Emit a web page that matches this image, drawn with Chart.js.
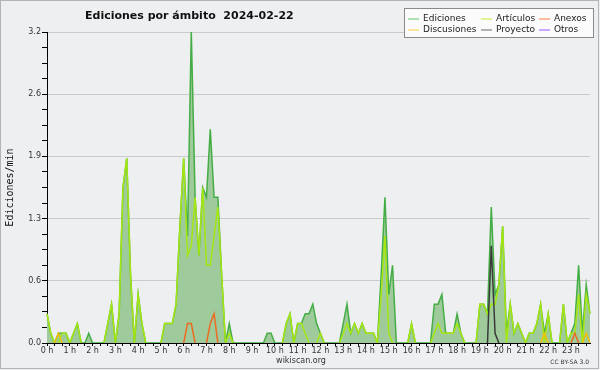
<!DOCTYPE html>
<html>
<head>
<meta charset="utf-8">
<script src="https://cdn.jsdelivr.net/npm/chart.js@4.4.1/dist/chart.umd.min.js"></script>
<style>
  html, body { margin: 0; padding: 0; background: #eeeff0; }
  #wrap { width: 600px; height: 370px; }
</style>
</head>
<body>
<div id="wrap"><canvas id="chart" width="600" height="370"></canvas></div>
<script>
// 10-minute buckets, 00:00 .. 23:50
const timeLabels = [];
for (let h = 0; h < 24; h++) {
    for (let m = 0; m < 60; m += 10) timeLabels.push(h + ':' + String(m).padStart(2, '0'));
}

const hourLabels = ['0 h', '1 h', '2 h', '3 h', '4 h', '5 h', '6 h', '7 h', '8 h', '9 h', '10 h', '11 h',
    '12 h', '13 h', '14 h', '15 h', '16 h', '17 h', '18 h', '19 h', '20 h', '21 h', '22 h', '23 h'];

const yTicks = [0, 0.16, 0.32, 0.48, 0.64, 0.8, 0.96, 1.12, 1.28, 1.44, 1.6, 1.76, 1.92,
    2.08, 2.24, 2.4, 2.56, 2.72, 2.88, 3.04, 3.2];
const yLabels = ['0.0', '0.6', '1.3', '1.9', '2.6', '3.2'];

// edits per minute, one row = 2 hours
const ediciones = [
    0.3, 0.1, 0, 0.1, 0.1, 0.1,   0, 0.1, 0.2, 0, 0, 0.1,
    0, 0, 0, 0, 0.2, 0.4,         0, 0.3, 1.6, 1.9, 0.7, 0,
    0.5, 0.2, 0, 0, 0, 0,         0, 0.2, 0.2, 0.2, 0.4, 1.2,
    1.9, 1.1, 3.2, 1.5, 0.9, 1.6, 1.5, 2.2, 1.5, 1.5, 0.7, 0,
    0.2, 0, 0, 0, 0, 0,           0, 0, 0, 0, 0.1, 0.1,
    0, 0, 0, 0.2, 0.3, 0,         0.2, 0.2, 0.3, 0.3, 0.4, 0.2,
    0.1, 0, 0, 0, 0, 0,           0.2, 0.4, 0.1, 0.2, 0.1, 0.2,
    0.1, 0.1, 0.1, 0, 0.7, 1.5,   0.5, 0.8, 0, 0, 0, 0,
    0.2, 0, 0, 0, 0, 0,           0.4, 0.4, 0.5, 0.1, 0.1, 0.1,
    0.3, 0.1, 0, 0, 0, 0,         0.4, 0.4, 0.3, 1.4, 0.5, 0.6,
    1.2, 0.1, 0.4, 0.1, 0.2, 0.1, 0, 0.1, 0.1, 0.2, 0.4, 0.1,
    0.3, 0, 0, 0, 0.4, 0,         0.1, 0.2, 0.8, 0.1, 0.6, 0.3
];

const articulos = [
    0.3, 0.1, 0, 0, 0.1, 0.1,     0, 0.1, 0.2, 0, 0, 0,
    0, 0, 0, 0, 0.2, 0.4,         0, 0.3, 1.6, 1.9, 0.7, 0,
    0.5, 0.2, 0, 0, 0, 0,         0, 0.2, 0.2, 0.2, 0.4, 1.2,
    1.9, 0.9, 1.0, 1.5, 0.9, 1.6, 0.8, 0.8, 1.1, 1.4, 0.7, 0,
    0.1, 0, 0, 0, 0, 0,           0, 0, 0, 0, 0, 0,
    0, 0, 0, 0.2, 0.3, 0,         0.2, 0.2, 0.1, 0, 0, 0,
    0.1, 0, 0, 0, 0, 0,           0.1, 0.2, 0.1, 0.2, 0.1, 0.2,
    0.1, 0.1, 0.1, 0, 0.5, 1.1,   0.1, 0, 0, 0, 0, 0,
    0.2, 0, 0, 0, 0, 0,           0.1, 0.2, 0.1, 0.1, 0.1, 0.1,
    0.2, 0.1, 0, 0, 0, 0,         0.4, 0.4, 0.3, 0.4, 0.4, 0.6,
    1.2, 0, 0.4, 0.1, 0.2, 0.1,   0, 0.1, 0.1, 0.2, 0.4, 0,
    0.3, 0, 0, 0, 0.4, 0,         0.1, 0.1, 0.5, 0, 0.5, 0.3
];

const anexos = [
    0, 0, 0, 0, 0, 0,   0, 0, 0, 0, 0, 0,
    0, 0, 0, 0, 0, 0,   0, 0, 0, 0, 0, 0,
    0, 0, 0, 0, 0, 0,   0, 0, 0, 0, 0, 0,
    0, 0.2, 0.2, 0, 0, 0,   0, 0.2, 0.3, 0, 0, 0,
    0, 0, 0, 0, 0, 0,   0, 0, 0, 0, 0, 0,
    0, 0, 0, 0, 0, 0,   0, 0, 0, 0, 0, 0,
    0, 0, 0, 0, 0, 0,   0, 0, 0, 0, 0, 0,
    0, 0, 0, 0, 0, 0,   0, 0, 0, 0, 0, 0,
    0, 0, 0, 0, 0, 0,   0, 0, 0, 0, 0, 0,
    0, 0, 0, 0, 0, 0,   0, 0, 0, 0, 0, 0,
    0, 0, 0, 0, 0, 0,   0, 0, 0, 0, 0, 0,
    0, 0, 0, 0, 0, 0,   0, 0.1, 0, 0, 0, 0
];

const discusiones = [
    0, 0, 0, 0.1, 0, 0,   0, 0, 0, 0, 0, 0,
    0, 0, 0, 0, 0, 0,   0, 0, 0, 0, 0, 0,
    0, 0, 0, 0, 0, 0,   0, 0, 0, 0, 0, 0,
    0, 0, 0, 0, 0, 0,   0, 0, 0, 0, 0, 0,
    0, 0, 0, 0, 0, 0,   0, 0, 0, 0, 0, 0,
    0, 0, 0, 0, 0, 0,   0, 0, 0, 0, 0, 0,
    0, 0, 0, 0, 0, 0,   0, 0, 0, 0, 0, 0,
    0, 0, 0, 0, 0, 0,   0, 0, 0, 0, 0, 0,
    0, 0, 0, 0, 0, 0,   0, 0, 0, 0, 0, 0,
    0, 0, 0, 0, 0, 0,   0, 0, 0, 0, 0, 0,
    0, 0, 0, 0, 0, 0,   0, 0, 0, 0, 0, 0.1,
    0, 0, 0, 0, 0, 0,   0, 0, 0, 0, 0.1, 0
];

const proyecto = [
    0, 0, 0, 0, 0, 0,   0, 0, 0, 0, 0, 0,
    0, 0, 0, 0, 0, 0,   0, 0, 0, 0, 0, 0,
    0, 0, 0, 0, 0, 0,   0, 0, 0, 0, 0, 0,
    0, 0, 0, 0, 0, 0,   0, 0, 0, 0, 0, 0,
    0, 0, 0, 0, 0, 0,   0, 0, 0, 0, 0, 0,
    0, 0, 0, 0, 0, 0,   0, 0, 0, 0, 0, 0,
    0, 0, 0, 0, 0, 0,   0, 0, 0, 0, 0, 0,
    0, 0, 0, 0, 0, 0,   0, 0, 0, 0, 0, 0,
    0, 0, 0, 0, 0, 0,   0, 0, 0, 0, 0, 0,
    0, 0, 0, 0, 0, 0,   0, 0, 0, 1.0, 0.1, 0,
    0, 0, 0, 0, 0, 0,   0, 0, 0, 0, 0, 0,
    0, 0, 0, 0, 0, 0,   0, 0, 0, 0, 0, 0
];

const otros = [
    0, 0, 0, 0, 0, 0,   0, 0, 0, 0, 0, 0,
    0, 0, 0, 0, 0, 0,   0, 0, 0, 0, 0, 0,
    0, 0, 0, 0, 0, 0,   0, 0, 0, 0, 0, 0,
    0, 0, 0, 0, 0, 0,   0, 0, 0, 0, 0, 0,
    0, 0, 0, 0, 0, 0,   0, 0, 0, 0, 0, 0,
    0, 0, 0, 0, 0, 0,   0, 0, 0, 0, 0, 0,
    0, 0, 0, 0, 0, 0,   0, 0, 0, 0, 0, 0,
    0, 0, 0, 0, 0, 0,   0, 0, 0, 0, 0, 0,
    0, 0, 0, 0, 0, 0,   0, 0, 0, 0, 0, 0,
    0, 0, 0, 0, 0, 0,   0, 0, 0, 0, 0, 0,
    0, 0, 0, 0, 0, 0,   0, 0, 0, 0, 0, 0,
    0, 0, 0, 0, 0, 0,   0, 0, 0, 0, 0, 0
];

const BG = '#eeeff0';
const FONT = '"DejaVu Sans", sans-serif';

// hide the flat runs along the zero line, like the original
const hideZeroRuns = {
    borderColor: ctx => (ctx.p0.parsed.y === 0 && ctx.p1.parsed.y === 0) ? 'rgba(0,0,0,0)' : undefined
};

function series(label, data, color, legendColor, order, extra) {
    return Object.assign({
        label: label,
        data: data,
        borderColor: color,
        legendColor: legendColor,
        borderWidth: 1.5,
        pointRadius: 0,
        tension: 0,
        fill: false,
        order: order,
        segment: hideZeroRuns
    }, extra || {});
}

const datasets = [
    series('Ediciones', ediciones, '#45ad45', '#66c466', 10, {
        fill: 'origin', backgroundColor: '#9fcb9c', segment: undefined
    }),
    series('Discusiones', discusiones, '#f2c200', '#ffd23a', 6),
    series('Artículos', articulos, '#a6e612', '#c0ee30', 7),
    series('Proyecto', proyecto, '#3a3a3a', '#666666', 4),
    series('Anexos', anexos, '#ee6a22', '#ff7a44', 3),
    series('Otros', otros, '#9944ff', '#9955ff', 2)
];

// legend cells: row 1 = Ediciones, Artículos, Anexos ; row 2 = Discusiones, Proyecto, Otros
const legendOrder = ['Ediciones', 'Artículos', 'Anexos', 'Discusiones', 'Proyecto', 'Otros'];

const decorPlugin = {
    id: 'decor',
    beforeDraw(chart) {
        const ctx = chart.ctx;
        ctx.save();
        ctx.fillStyle = BG;
        ctx.fillRect(0, 0, chart.width, chart.height);
        ctx.restore();
    },
    afterDraw(chart) {
        const ctx = chart.ctx;
        ctx.save();

        // title
        ctx.fillStyle = '#111';
        ctx.font = 'bold 11px ' + FONT;
        ctx.textBaseline = 'alphabetic';
        ctx.textAlign = 'left';
        ctx.fillText('Ediciones por ámbito  2024-02-22', 85, 19);

        // legend box
        ctx.fillStyle = '#fbfbfb';
        ctx.fillRect(404.5, 8.5, 189, 29);
        ctx.strokeStyle = '#8a8a8a';
        ctx.lineWidth = 1;
        ctx.strokeRect(404.5, 8.5, 189, 29);

        const colX = [408, 481, 539];
        const rowY = [18.5, 29.5];
        ctx.font = '9px ' + FONT;
        ctx.textBaseline = 'middle';
        legendOrder.forEach((name, k) => {
            const ds = datasets.find(d => d.label === name);
            const x = colX[k % 3];
            const y = rowY[Math.floor(k / 3)];
            ctx.strokeStyle = ds.legendColor;
            ctx.lineWidth = 1;
            ctx.beginPath();
            ctx.moveTo(x, y + 0.5);
            ctx.lineTo(x + 11, y + 0.5);
            ctx.stroke();
            ctx.fillStyle = '#222';
            ctx.fillText(name, x + 15, y);
        });

        // footer
        ctx.fillStyle = '#333';
        ctx.font = '8px ' + FONT;
        ctx.textAlign = 'center';
        ctx.fillText('wikiscan.org', 301, 361);
        ctx.font = '6px ' + FONT;
        ctx.textAlign = 'right';
        ctx.fillText('CC BY-SA 3.0', 589, 362);

        // frame
        ctx.strokeStyle = '#b4b4b4';
        ctx.lineWidth = 1;
        ctx.strokeRect(0.5, 0.5, 598, 368);
        ctx.restore();
    }
};

new Chart(document.getElementById('chart'), {
    type: 'line',
    data: { labels: timeLabels, datasets: datasets },
    options: {
        responsive: false,
        animation: false,
        devicePixelRatio: 1,
        layout: { padding: { top: 32, right: 10, bottom: 0, left: 0 } },
        plugins: {
            legend: { display: false },
            title: { display: false },
            tooltip: { enabled: false }
        },
        scales: {
            x: {
                type: 'category',
                z: 1,
                afterFit: s => { s.height = 27; },
                border: { color: '#000', width: 1 },
                grid: {
                    drawOnChartArea: false,
                    tickLength: 3,
                    tickColor: c => c.index % 2 === 0 ? '#000' : 'rgba(0,0,0,0)'
                },
                ticks: {
                    autoSkip: false,
                    maxRotation: 0,
                    minRotation: 0,
                    padding: 0,
                    color: '#333',
                    font: { family: FONT, size: 8 },
                    callback: (v, i) => i % 6 === 0 ? hourLabels[i / 6] : ''
                }
            },
            y: {
                min: 0,
                max: 3.2,
                afterFit: s => { s.width = 47; },
                afterBuildTicks: s => { s.ticks = yTicks.map(v => ({ value: v })); },
                border: { color: '#000', width: 1 },
                grid: {
                    color: c => (c.index % 4 === 0 && c.index > 0) ? '#cacaca' : 'rgba(0,0,0,0)',
                    tickColor: '#000',
                    tickLength: 5
                },
                ticks: {
                    autoSkip: false,
                    padding: 1,
                    color: '#333',
                    font: { family: FONT, size: 8 },
                    callback: (v, i) => i % 4 === 0 ? yLabels[i / 4] : ''
                },
                title: {
                    display: true,
                    text: 'Ediciones/min',
                    color: '#111',
                    font: { family: '"DejaVu Sans Mono", monospace', size: 10 },
                    padding: { top: 4, bottom: 0 }
                }
            }
        }
    },
    plugins: [decorPlugin]
});
</script>
</body>
</html>
